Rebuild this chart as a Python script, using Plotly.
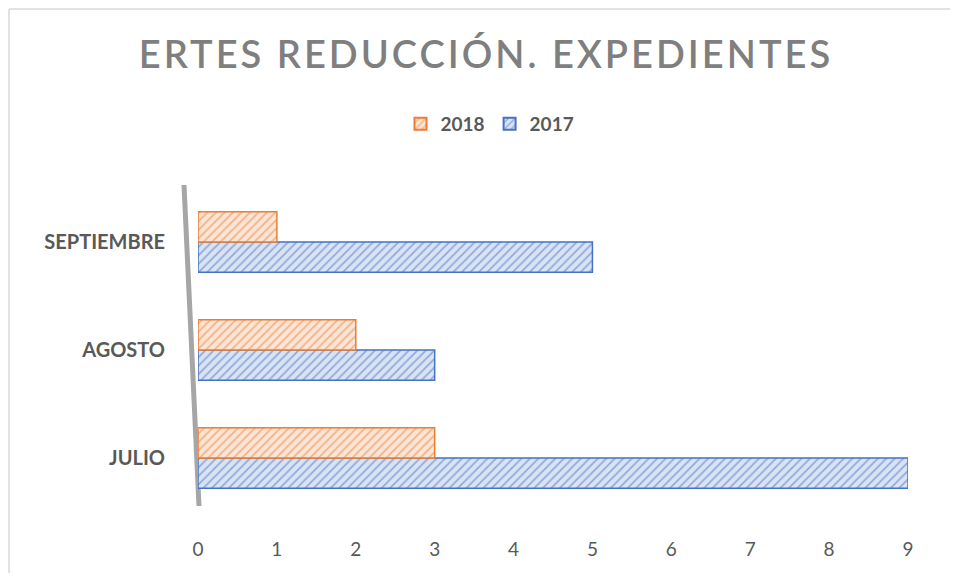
import plotly.graph_objects as go

categories = ["JULIO", "AGOSTO", "SEPTIEMBRE"]
values_2017 = [9, 3, 5]
values_2018 = [3, 2, 1]
x_ticks = [0, 1, 2, 3, 4, 5, 6, 7, 8, 9]

# the page body adds an 8px offset; work in reference pixels and shift
OFF = 8
W, H = 958 - 2 * OFF, 581 - 2 * OFF
PX0, PX1, PY0, PY1 = 198, 908, 188, 512          # plot area in reference pixels
L, R = PX0 - OFF, W - (PX1 - OFF)
T, B = PY0 - OFF, H - (PY1 - OFF)
PW, PH = PX1 - PX0, PY1 - PY0

def px(x):
    return (x - PX0) / PW

def py(y):
    return (PY1 - y) / PH

fig = go.Figure()
fig.add_trace(go.Bar(
    name="2017", y=categories, x=values_2017, orientation="h",
    marker=dict(color="#DAE3F3", line=dict(color="#4472C4", width=1.5),
                pattern=dict(shape="/", fgcolor="#4472C4", bgcolor="#DAE3F3", size=6, solidity=0.3)),
))
fig.add_trace(go.Bar(
    name="2018", y=categories, x=values_2018, orientation="h",
    marker=dict(color="#FBE5D6", line=dict(color="#ED7D31", width=1.5),
                pattern=dict(shape="/", fgcolor="#ED7D31", bgcolor="#FBE5D6", size=6, solidity=0.3)),
))

fig.update_layout(
    width=W, height=H,
    margin=dict(l=L, r=R, t=T, b=B),
    paper_bgcolor="white", plot_bgcolor="white",
    barmode="group", bargap=0.44, bargroupgap=0,
    title=dict(
        text='<span style="letter-spacing:3px">ERTES REDUCCIÓN. EXPEDIENTES</span>',
        x=(486 - OFF) / W, xanchor="center", y=1 - (55 - OFF) / H, yanchor="middle",
        font=dict(family="Lato", size=38, color="#7F7F7F", weight=600),
    ),
    legend=dict(
        orientation="h", traceorder="reversed",
        x=px(490), xanchor="center", y=py(124), yanchor="middle",
        font=dict(family="Lato", size=19, color="#595959", weight="bold"),
        itemwidth=30, itemsizing="constant",
    ),
    xaxis=dict(
        range=[0, 9], tickvals=x_ticks, showgrid=False, zeroline=False,
        showline=False, ticklabelstandoff=24,
        tickfont=dict(family="Lato", size=19, color="#595959"),
    ),
    yaxis=dict(
        categoryorder="array", categoryarray=categories,
        showgrid=False, zeroline=False, showline=False, ticklabelstandoff=32,
        tickfont=dict(family="Lato", size=20, color="#595959", weight="bold"),
    ),
    shapes=[
        dict(type="line", xref="paper", yref="paper",
             x0=px(184), y0=py(185), x1=px(199), y1=py(506),
             line=dict(color="#A6A6A6", width=5), layer="below"),
        dict(type="line", xref="paper", yref="paper",
             x0=px(9), y0=py(9), x1=px(1000), y1=py(9),
             line=dict(color="#D9D9D9", width=1.5)),
        dict(type="line", xref="paper", yref="paper",
             x0=px(9), y0=py(9), x1=px(9), y1=py(700),
             line=dict(color="#D9D9D9", width=1.5)),
    ],
)

fig.write_html("out.html")
